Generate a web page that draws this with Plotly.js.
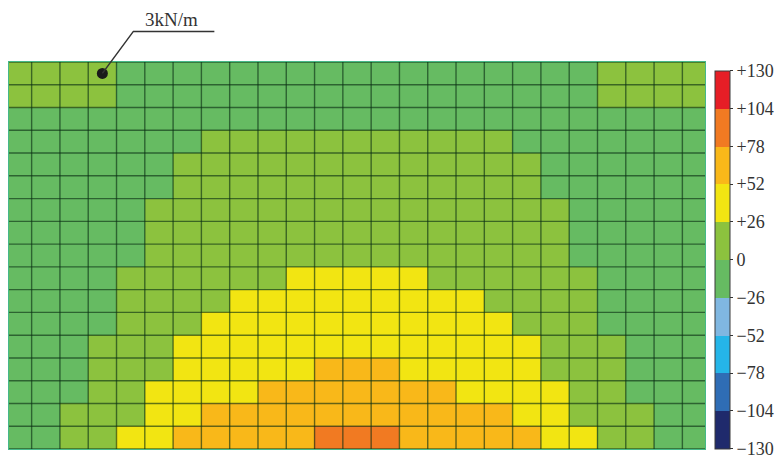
<!DOCTYPE html>
<html>
<head>
<meta charset="utf-8">
<script src="https://cdn.plot.ly/plotly-3.0.1.min.js"></script>
<style>html,body{margin:0;padding:0;background:#fff;}#chart{width:783px;height:460px;}</style>
</head>
<body>
<div id="chart"></div>
<script>
// columns (x index) and rows (y index, row 0 at top)
const columns = [0,1,2,3,4,5,6,7,8,9,10,11,12,13,14,15,16,17,18,19,20,21,22,23,24];
const rows = [0,1,2,3,4,5,6,7,8,9,10,11,12,13,14,15,16];

// cell values (kN/m), read per row from the picture
const row00 = [4,3,3,2,-2,-4,-6,-7,-8,-9,-9,-10,-10,-10,-9,-9,-8,-7,-6,-4,-2,2,3,3,4];
const row01 = [3,3,2,1,-3,-5,-6,-7,-8,-8,-9,-9,-9,-9,-8,-8,-8,-7,-6,-5,-3,1,2,3,3];
const row02 = [-1,-2,-3,-3,-4,-4,-3,-2,-2,-1,-1,-1,-1,-1,-1,-1,-2,-2,-3,-4,-4,-3,-3,-2,-1];
const row03 = [-4,-4,-4,-3,-3,-2,-1,1,2,3,3,4,4,4,3,3,2,1,-1,-2,-3,-3,-4,-4,-4];
const row04 = [-6,-6,-5,-4,-3,-1,1,3,5,6,7,8,8,8,7,6,5,3,1,-1,-3,-4,-5,-6,-6];
const row05 = [-7,-7,-6,-5,-3,-1,2,5,7,9,10,11,11,11,10,9,7,5,2,-1,-3,-5,-6,-7,-7];
const row06 = [-8,-7,-6,-5,-2,1,4,7,10,12,14,15,15,15,14,12,10,7,4,1,-2,-5,-6,-7,-8];
const row07 = [-8,-8,-7,-5,-2,2,6,10,13,16,18,20,20,20,18,16,13,10,6,2,-2,-5,-7,-8,-8];
const row08 = [-8,-8,-6,-4,-1,3,8,12,16,20,23,25,25,25,23,20,16,12,8,3,-1,-4,-6,-8,-8];
const row09 = [-8,-7,-5,-3,1,5,10,15,20,24,28,30,31,30,28,24,20,15,10,5,1,-3,-5,-7,-8];
const row10 = [-7,-6,-4,-1,3,8,14,20,27,31,35,37,38,37,35,31,27,20,14,8,3,-1,-4,-6,-7];
const row11 = [-6,-5,-3,-1,5,11,18,27,32,38,42,45,46,45,42,38,32,27,18,11,5,-1,-3,-5,-6];
const row12 = [-5,-4,-1,2,8,15,27,33,40,46,50,51,51,51,50,46,40,33,27,15,8,2,-1,-4,-5];
const row13 = [-4,-3,-1,3,10,20,28,36,44,49,51,55,57,55,51,49,44,36,28,20,10,3,-1,-3,-4];
const row14 = [-3,-2,-1,6,17,29,38,45,51,55,62,66,68,66,62,55,51,45,38,29,17,6,-1,-2,-3];
const row15 = [-2,-1,3,12,23,33,45,54,60,66,71,75,77,75,71,66,60,54,45,33,23,12,3,-1,-2];
const row16 = [-1,-1,5,15,30,42,56,64,70,74,77,82,85,82,77,74,70,64,56,42,30,15,5,-1,-1];

// colour bar
const binEdges = [-130,-104,-78,-52,-26,0,26,52,78,104,130];
const binColors = ['#1f2a6c','#2f6db5','#25b5e8','#80b7e1','#66bb62','#8cc23e','#f2e512','#f9b819','#f17a22','#e61e26'];
const tickText = ['\u2212130','\u2212104','\u221278','\u221252','\u221226','0','+26','+52','+78','+104','+130'];

// load marker
const loadLabel = '3kN/m';
const loadCol = 3;
const loadRow = 0;

const z = [row00,row01,row02,row03,row04,row05,row06,row07,row08,row09,row10,row11,row12,row13,row14,row15,row16];

const zmin = binEdges[0], zmax = binEdges[binEdges.length-1];
const colorscale = [];
binColors.forEach((c,i)=>{
  colorscale.push([(binEdges[i]-zmin)/(zmax-zmin), c]);
  colorscale.push([(binEdges[i+1]-zmin)/(zmax-zmin), c]);
});

const xRange = [-0.3, columns.length - 0.7];
const yRange = [rows.length - 0.5, -0.5];

// grid lines at cell borders
const gx = [], gy = [];
for (let k = 0; k <= columns.length; k++) {
  gx.push(k-0.5, k-0.5, null);
  gy.push(-0.5, rows.length-0.5, null);
}
for (let k = 0; k <= rows.length; k++) {
  gx.push(-0.5, columns.length-0.5, null);
  gy.push(k-0.5, k-0.5, null);
}

// paper position of the load point (for the unclipped leader line)
const loadPX = (loadCol - xRange[0]) / (xRange[1] - xRange[0]);
const loadPY = (loadRow - yRange[0]) / (yRange[1] - yRange[0]);

const serif = 'Liberation Serif, DejaVu Serif, serif';

const data = [
  {
    type: 'heatmap', x: columns, y: rows, z: z,
    zmin: zmin, zmax: zmax, colorscale: colorscale,
    hoverinfo: 'skip',
    colorbar: {
      x: 1.0129, xanchor: 'left', xpad: 0,
      y: 0.489, yanchor: 'middle', ypad: 0,
      len: 0.977, lenmode: 'fraction', thickness: 15,
      outlinewidth: 1, outlinecolor: '#3a3a3a',
      tickmode: 'array', tickvals: binEdges, ticktext: tickText,
      ticks: 'outside', ticklen: 3, tickcolor: '#333',
      tickfont: {family: serif, size: 18, color: '#333'}
    }
  },
  {
    type: 'scatter', mode: 'lines', x: gx, y: gy,
    line: {color: 'rgba(10,45,20,0.62)', width: 1.4},
    hoverinfo: 'skip', showlegend: false
  },
  {
    type: 'scatter', mode: 'markers', x: [loadCol], y: [loadRow],
    marker: {size: 11, color: '#1a1a1a'},
    hoverinfo: 'skip', showlegend: false
  }
];

const layout = {
  width: 783, height: 460,
  margin: {l: 9, r: 77, t: 62, b: 11},
  paper_bgcolor: '#ffffff', plot_bgcolor: '#ffffff',
  showlegend: false,
  xaxis: {range: xRange, showgrid: false, zeroline: false, showticklabels: false, ticks: '',
          showline: true, mirror: true, linecolor: '#45b889', linewidth: 1},
  yaxis: {range: yRange, showgrid: false, zeroline: false, showticklabels: false, ticks: '',
          showline: true, mirror: true, linecolor: '#45b889', linewidth: 1},
  shapes: [{
    type: 'path', xref: 'paper', yref: 'paper',
    xsizemode: 'pixel', ysizemode: 'pixel',
    xanchor: loadPX, yanchor: loadPY,
    path: 'M0,0 L31,42 L112,42',
    line: {color: '#333', width: 1.5}
  }],
  annotations: [{
    x: loadCol, y: loadRow, xref: 'x', yref: 'y',
    text: loadLabel, showarrow: false,
    xshift: 69, yshift: 54,
    font: {family: serif, size: 19, color: '#333'}
  }]
};

Plotly.newPlot('chart', data, layout, {displayModeBar: false, staticPlot: true});
</script>
</body>
</html>
